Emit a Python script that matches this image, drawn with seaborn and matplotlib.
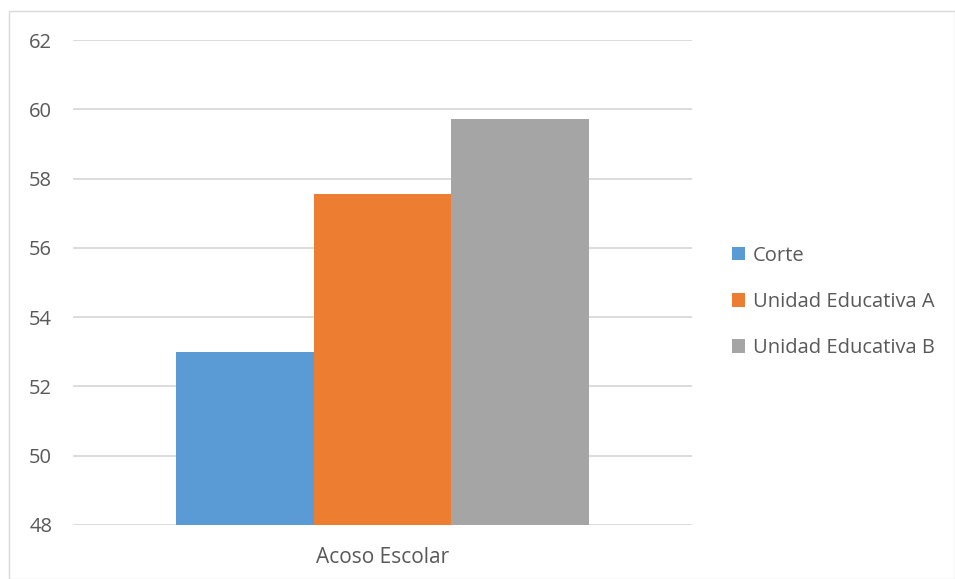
import matplotlib
matplotlib.use("Agg")
import matplotlib.pyplot as plt
import seaborn as sns
import pandas as pd
from matplotlib.patches import Rectangle, Patch

categories = ["Acoso Escolar"]
series = ["Corte", "Unidad Educativa A", "Unidad Educativa B"]
values = [53.0, 57.56, 59.72]
colors = ["#5B9BD5", "#ED7D31", "#A5A5A5"]
yticks = [48, 50, 52, 54, 56, 58, 60, 62]

df = pd.DataFrame({"cat": categories * len(series), "serie": series, "valor": values})

sns.set_theme(style="white")
plt.rcParams["font.family"] = ["Open Sans", "DejaVu Sans"]
text_color = "#595959"

fig = plt.figure(figsize=(9.55, 5.79), dpi=100)
ax = fig.add_axes([73/955, 1-525/579, (692-73)/955, (525-40)/579])

sns.barplot(data=df, x="cat", y="valor", hue="serie", palette=colors,
            width=0.667, gap=0, linewidth=0, ax=ax, legend=False, saturation=1)

ax.set_ylim(48, 62)
ax.set_xlim(-0.5, 0.5)
ax.set_yticks(yticks)
ax.set_yticklabels([str(t) for t in yticks])
ax.yaxis.grid(True, color="#D9D9D9", linewidth=1.3)
ax.set_axisbelow(True)
for s in ax.spines.values():
    s.set_visible(False)
ax.tick_params(axis="both", length=0, colors=text_color)
ax.tick_params(axis="y", pad=15, labelsize=14.5)
ax.tick_params(axis="x", pad=16, labelsize=15)
ax.set_xlabel("")
ax.set_ylabel("")

handles = [Patch(facecolor=c, edgecolor="none") for c in colors]
leg = fig.legend(handles, series, loc="center left", bbox_to_anchor=(714/955, 1-302/579),
                 frameon=False, fontsize=14.5, handlelength=0.64, handleheight=0.64,
                 handletextpad=0.4, labelspacing=1.3, labelcolor=text_color)

fig.patches.append(Rectangle((9/955, 0), 1 - 9/955, 1 - 11/579, transform=fig.transFigure,
                             fill=False, edgecolor="#D9D9D9", linewidth=1))

fig.savefig("out.png", dpi=100)
